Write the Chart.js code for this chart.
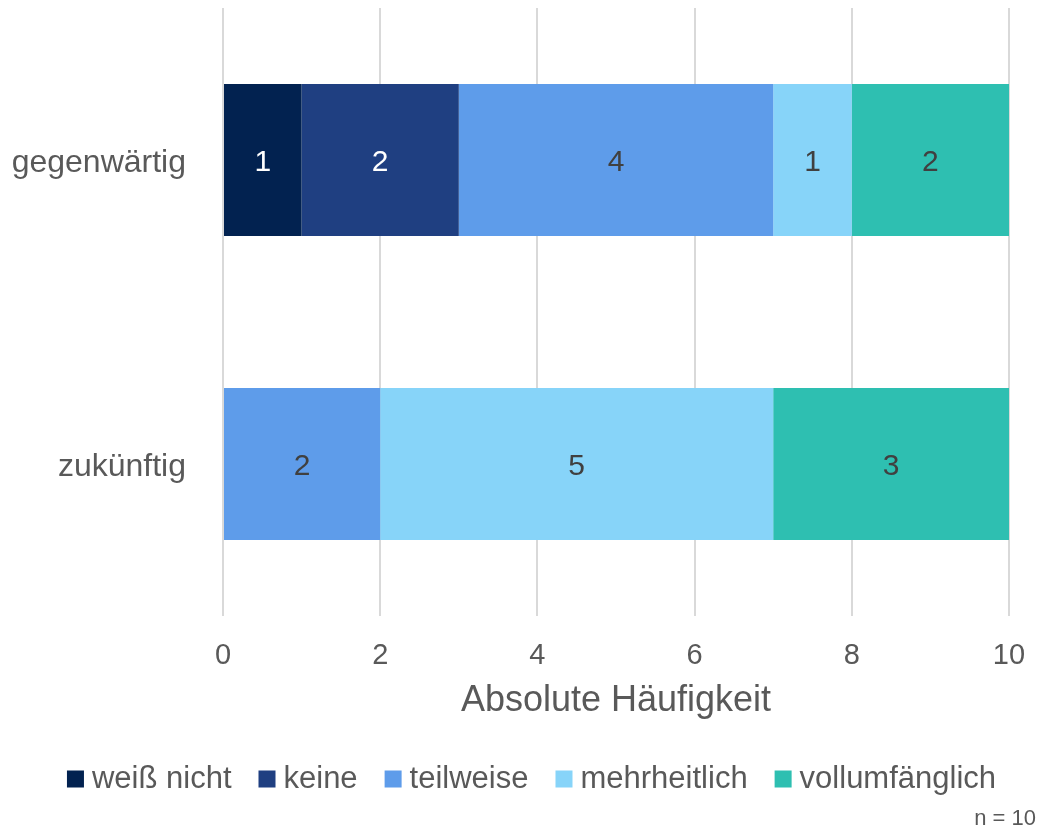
<!DOCTYPE html>
<html>
<head>
<meta charset="utf-8">
<script src="https://cdn.jsdelivr.net/npm/chart.js@4"></script>
<style>
  html, body { margin: 0; padding: 0; background: #fff; }
  #wrap { width: 1051px; height: 830px; position: relative; }
</style>
</head>
<body>
<div id="wrap"><canvas id="chart" width="1051" height="830"></canvas></div>
<script>
const categories = ['gegenwärtig', 'zukünftig'];
const seriesNames = ['weiß nicht', 'keine', 'teilweise', 'mehrheitlich', 'vollumfänglich'];
const weissNicht = [1, 0];
const keine = [2, 0];
const teilweise = [4, 2];
const mehrheitlich = [1, 5];
const vollumfaenglich = [2, 3];
const xTicks = [0, 2, 4, 6, 8, 10];

const colors = ['#022250', '#1F3F81', '#5E9CEA', '#87D4F9', '#2EBFB1'];
const labelColors = ['#ffffff', '#ffffff', '#404040', '#404040', '#404040'];
const values = [weissNicht, keine, teilweise, mehrheitlich, vollumfaenglich];

const FONT = '"Liberation Sans", Arial, sans-serif';

// draws the value in the middle of each segment
const segmentLabels = {
  id: 'segmentLabels',
  afterDatasetsDraw(chart) {
    const ctx = chart.ctx;
    ctx.save();
    ctx.font = '30px ' + FONT;
    ctx.textAlign = 'center';
    ctx.textBaseline = 'middle';
    chart.data.datasets.forEach((ds, i) => {
      const meta = chart.getDatasetMeta(i);
      meta.data.forEach((bar, j) => {
        const v = ds.data[j];
        if (!v) return;
        ctx.fillStyle = labelColors[i];
        ctx.fillText(String(v), (bar.x + bar.base) / 2, bar.y + 3);
      });
    });
    ctx.restore();
  }
};

// legend row + n note, drawn by hand so it sits like the original
const bottomLegend = {
  id: 'bottomLegend',
  afterDraw(chart) {
    const ctx = chart.ctx;
    ctx.save();
    ctx.font = '31px ' + FONT;
    ctx.textBaseline = 'middle';
    const box = 17, gap = 8, spacing = 27;
    let total = 0;
    seriesNames.forEach((s, i) => {
      total += box + gap + ctx.measureText(s).width;
      if (i < seriesNames.length - 1) total += spacing;
    });
    let x = (1051 - total) / 2 + 6;
    const y = 779;
    seriesNames.forEach((s, i) => {
      ctx.fillStyle = colors[i];
      ctx.fillRect(x, y - box / 2, box, box);
      x += box + gap;
      ctx.fillStyle = '#595959';
      ctx.textAlign = 'left';
      ctx.fillText(s, x, y);
      x += ctx.measureText(s).width + spacing;
    });

    ctx.font = '22px ' + FONT;
    ctx.textAlign = 'right';
    ctx.fillText('n = 10', 1036, 819);
    ctx.restore();
  }
};

new Chart(document.getElementById('chart'), {
  type: 'bar',
  data: {
    labels: categories,
    datasets: seriesNames.map((name, i) => ({
      label: name,
      data: values[i],
      backgroundColor: colors[i],
      borderWidth: 0,
      barPercentage: 0.5,
      categoryPercentage: 1
    }))
  },
  options: {
    indexAxis: 'y',
    responsive: false,
    animation: false,
    devicePixelRatio: 1,
    layout: { padding: { top: 8, right: 42, bottom: 102, left: 0 } },
    scales: {
      x: {
        stacked: true,
        min: 0,
        max: 10,
        afterBuildTicks(scale) { scale.ticks = xTicks.map(v => ({ value: v })); },
        border: { display: false },
        grid: { color: '#D9D9D9', lineWidth: 2, drawTicks: false },
        ticks: { color: '#595959', font: { family: FONT, size: 29 }, padding: 23 },
        title: {
          display: true,
          text: 'Absolute Häufigkeit',
          color: '#595959',
          font: { family: FONT, size: 36 },
          padding: { top: 6, bottom: 5 }
        },
        afterFit(scale) { scale.height = 112; }
      },
      y: {
        stacked: true,
        border: { display: false },
        grid: { display: false, drawTicks: false },
        ticks: { color: '#595959', font: { family: FONT, size: 32 }, padding: 37, labelOffset: 3 },
        afterFit(scale) {
          scale.width = 223;
          scale.paddingTop = 0;
          scale.paddingBottom = 0;
        }
      }
    },
    plugins: {
      legend: { display: false },
      tooltip: { enabled: false }
    }
  },
  plugins: [segmentLabels, bottomLegend]
});
</script>
</body>
</html>
